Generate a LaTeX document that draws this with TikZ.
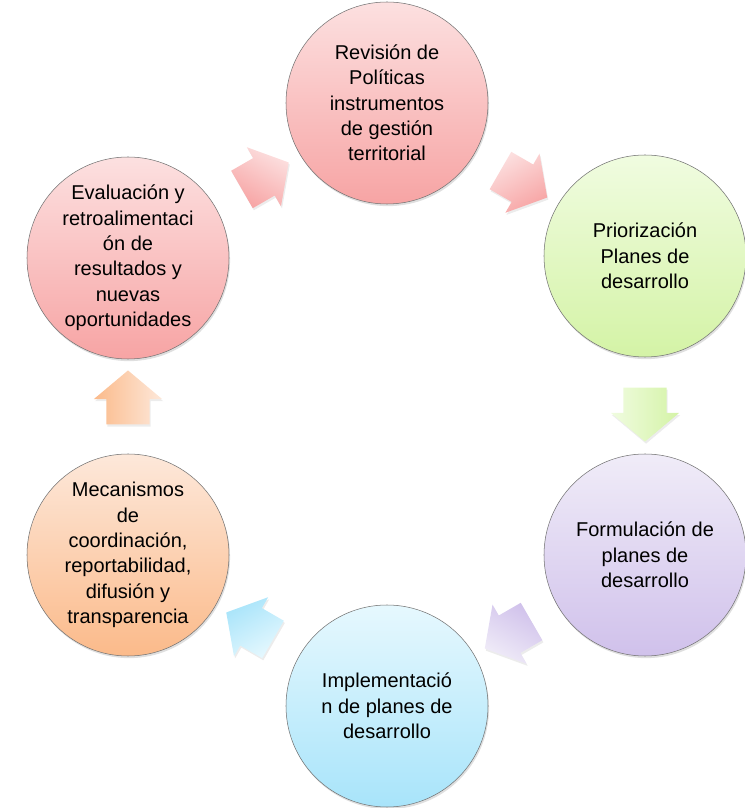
\documentclass[tikz,border=0pt]{standalone}
\usepackage{fontspec}
\setmainfont{Liberation Sans}
\usepackage{tikz}
\usetikzlibrary{shapes.arrows,shadows,calc}
\definecolor{pinktop}{RGB}{252,224,224}
\definecolor{pinkbot}{RGB}{247,164,164}
\definecolor{greentop}{RGB}{240,252,224}
\definecolor{greenbot}{RGB}{212,243,166}
\definecolor{lilactop}{RGB}{240,236,248}
\definecolor{lilacbot}{RGB}{208,193,235}
\definecolor{cyantop}{RGB}{230,248,254}
\definecolor{cyanbot}{RGB}{168,228,250}
\definecolor{peachtop}{RGB}{253,232,218}
\definecolor{peachbot}{RGB}{251,186,138}

\begin{document}
\begin{tikzpicture}[x=0.75pt, y=0.75pt,
    stage/.style={circle, draw=black!55, thin, minimum size=151.5pt, inner sep=0pt,
      align=center, font=\fontsize{15}{19}\selectfont,
      drop shadow={opacity=0.25, shadow xshift=0.8pt, shadow yshift=-1.6pt}},
    flow/.style={single arrow, draw=none, inner xsep=0pt, inner ysep=16pt,
      minimum height=40.5pt, minimum width=51pt,
      single arrow head extend=9.4pt, single arrow tip angle=100,
      drop shadow={opacity=0.15, shadow xshift=0.8pt, shadow yshift=-1.6pt}}]
  \useasboundingbox (0,0) rectangle (744,808);
  % Stages of the cycle
  \node[stage, top color=pinktop, bottom color=pinkbot] (rev) at (387,705)
    {Revisión de\\Políticas\\instrumentos\\de gestión\\territorial};
  \node[stage, top color=greentop, bottom color=greenbot] (pri) at (645,552)
    {Priorización\\Planes de\\desarrollo};
  \node[stage, top color=lilactop, bottom color=lilacbot] (for) at (645,253)
    {Formulación de\\planes de\\desarrollo};
  \node[stage, top color=cyantop, bottom color=cyanbot] (imp) at (387,102)
    {Implementació\\n de planes de\\desarrollo};
  \node[stage, top color=peachtop, bottom color=peachbot] (mec) at (128,253)
    {Mecanismos\\de\\coordinación,\\reportabilidad,\\difusión y\\transparencia};
  \node[stage, top color=pinktop, bottom color=pinkbot] (eva) at (128,550)
    {Evaluación y\\retroalimentaci\\ón de\\resultados y\\nuevas\\oportunidades};
  % Arrows between stages
  \node[flow, rotate=-30, top color=pinktop, bottom color=pinkbot, shading angle=30]
    (revpri) at ($(rev)!0.5!(pri)$) {};
  \node[flow, rotate=-90, top color=greentop, bottom color=greenbot, shading angle=90]
    (prifor) at ($(pri)!0.5!(for)$) {};
  \node[flow, rotate=210, top color=lilactop, bottom color=lilacbot, shading angle=-210]
    (forimp) at ($(for)!0.5!(imp)$) {};
  \node[flow, rotate=150, top color=cyantop, bottom color=cyanbot, shading angle=-150]
    (impmec) at ($(imp)!0.5!(mec)$) {};
  \node[flow, rotate=90, top color=peachtop, bottom color=peachbot, shading angle=-90]
    (meceva) at ($(mec)!0.5!(eva)$) {};
  \node[flow, rotate=30, top color=pinktop, bottom color=pinkbot, shading angle=-30]
    (evarev) at ($(eva)!0.5!(rev)$) {};
\end{tikzpicture}
\end{document}
